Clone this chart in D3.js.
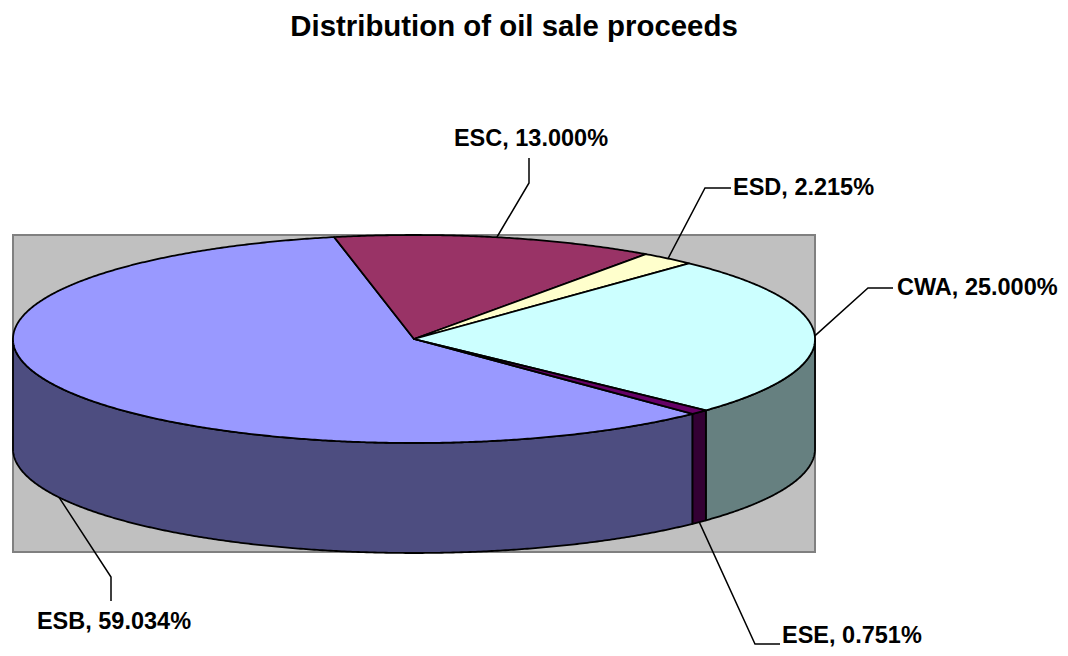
<!DOCTYPE html>
<html>
<head>
<meta charset="utf-8">
<script src="https://cdn.jsdelivr.net/npm/d3@7"></script>
<style>
  html, body { margin: 0; padding: 0; background: #ffffff; }
  svg { display: block; }
</style>
</head>
<body>
<svg id="chart" width="1068" height="656"></svg>
<script>
// ---- data ----
const categories = ["ESB", "ESC", "ESD", "CWA", "ESE"];
const shares = [59.034, 13.000, 2.215, 25.000, 0.751];
const topColors = ["#9999FF", "#993366", "#FFFFCC", "#CCFFFF", "#660066"];
const title = "Distribution of oil sale proceeds";

// ---- layout ----
const W = 1068, H = 656;
const cx = 414, cy = 339, rx = 401, ry = 104, depth = 110;
const startDeg = 136.0;
// label elbow / text layout (px)
const labelLayout = {
  ESB: { elbow: [111, 577], end: [111, 601], tx: 114, ty: 629, anchor: "middle" },
  ESC: { elbow: [529, 183], end: [529, 158], tx: 531, ty: 146, anchor: "middle" },
  ESD: { elbow: [705, 188], end: [731, 188], tx: 733, ty: 195, anchor: "start" },
  CWA: { elbow: [868, 288], end: [893, 288], tx: 897, ty: 295, anchor: "start" },
  ESE: { elbow: [755, 644], end: [780, 644], tx: 782, ty: 643, anchor: "start" }
};

const svg = d3.select("#chart");

svg.append("text")
  .attr("x", 514).attr("y", 36)
  .attr("text-anchor", "middle")
  .attr("font-family", "Liberation Sans, Arial, sans-serif")
  .attr("font-weight", "bold")
  .attr("font-size", 29.4)
  .attr("fill", "#000")
  .text(title);

// plot area
svg.append("rect")
  .attr("x", 13).attr("y", 235).attr("width", 802).attr("height", 317)
  .attr("fill", "#C0C0C0").attr("stroke", "#808080").attr("stroke-width", 2);

const data = categories.map((c, i) => ({ name: c, value: shares[i], color: topColors[i] }));
const pie = d3.pie().value(d => d.value).sort(null)
  .startAngle(startDeg * Math.PI / 180)
  .endAngle(startDeg * Math.PI / 180 + 2 * Math.PI);
const arcs = pie(data);

const pt = (a, dz = 0) => [cx + rx * Math.sin(a), cy - ry * Math.cos(a) + dz];
const arcPts = (a0, a1, dz) => {
  const n = Math.max(2, Math.ceil(Math.abs(a1 - a0) / (0.4 * Math.PI / 180)));
  return d3.range(n + 1).map(i => pt(a0 + (a1 - a0) * i / n, dz));
};
const line = d3.line();

function darker(c) {
  const col = d3.rgb(c);
  return d3.rgb(col.r * 0.5, col.g * 0.5, col.b * 0.5).formatHex();
}

// side walls (front half only)
const fronts = [[Math.PI / 2, 3 * Math.PI / 2], [5 * Math.PI / 2, 7 * Math.PI / 2]];
const sideG = svg.append("g");
arcs.forEach(a => {
  fronts.forEach(([f0, f1]) => {
    const s = Math.max(a.startAngle, f0), e = Math.min(a.endAngle, f1);
    if (e > s) {
      const pts = arcPts(s, e, 0).concat(arcPts(e, s, depth));
      sideG.append("path")
        .attr("d", line(pts) + "Z")
        .attr("fill", darker(a.data.color))
        .attr("stroke", "#000").attr("stroke-width", 1.8)
        .attr("stroke-linejoin", "round");
    }
  });
});

// tops
const topG = svg.append("g");
arcs.forEach(a => {
  const pts = [[cx, cy]].concat(arcPts(a.startAngle, a.endAngle, 0));
  topG.append("path")
    .attr("d", line(pts) + "Z")
    .attr("fill", a.data.color)
    .attr("stroke", "#000").attr("stroke-width", 1.8)
    .attr("stroke-linejoin", "round");
});

// labels with leader lines
const labG = svg.append("g");
arcs.forEach(a => {
  const mid = (a.startAngle + a.endAngle) / 2;
  const front = Math.cos(mid) < 0;
  const anchorPt = pt(mid, front ? depth : 0);
  const L = labelLayout[a.data.name];
  labG.append("path")
    .attr("d", line([anchorPt, L.elbow, L.end]))
    .attr("fill", "none").attr("stroke", "#000").attr("stroke-width", 1.5);
  labG.append("text")
    .attr("x", L.tx).attr("y", L.ty)
    .attr("text-anchor", L.anchor)
    .attr("font-family", "Liberation Sans, Arial, sans-serif")
    .attr("font-weight", "bold")
    .attr("font-size", 23.5)
    .attr("fill", "#000")
    .text(`${a.data.name}, ${a.data.value.toFixed(3)}%`);
});
</script>
</body>
</html>
